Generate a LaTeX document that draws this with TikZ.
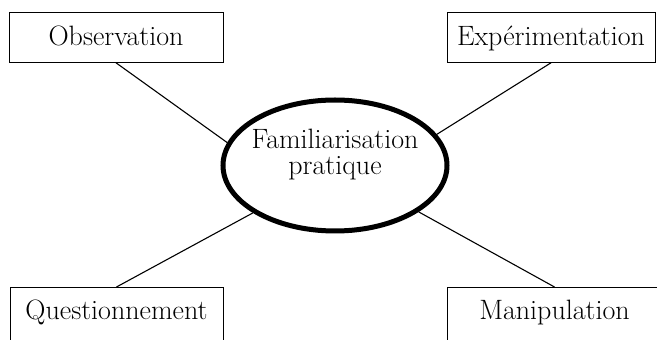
\documentclass[tikz,border=0pt]{standalone}
\usepackage{tikz}
\usetikzlibrary{positioning, shapes.geometric}

\begin{document}
\begin{tikzpicture}[x=1pt, y=1pt]
			\tikzset{
				label/.style = {font={\fontsize{28}{26}\selectfont}},
				link/.style={line width=1.1pt},
				boxstyle/.style={draw, line width=0.8pt, label, inner xsep=0pt, inner ysep=0pt, anchor=north, text height=33pt, text depth=17pt},
				lowbox/.style={boxstyle, text height=32pt, text depth=30pt},
				hub/.style={draw, ellipse, line width=5pt, minimum width=224pt, minimum height=131pt, inner sep=0pt},
			}

			\useasboundingbox (0,0) rectangle (657,340);

			\node[hub] (fam) at (335,174.5) {};
			\node[label, align=center] (famtxt) at ([yshift=10.5pt]fam.center) {Familiarisation\\pratique};

			\node[boxstyle, minimum width=214pt] (obs) at (116,328) {Observation};
			\node[boxstyle, minimum width=208pt] (exp) at (551,328) {Expérimentation};
			\node[lowbox, minimum width=213pt] (que) at (116.5,53) {Questionnement};
			\node[lowbox, minimum width=215pt] (man) at (554.5,53) {Manipulation};

			\foreach \from/\ang in {obs.south/168, exp.south/17, que.north/210, man.north/331}
				{
					\draw[link] (\from) -- (fam.\ang);
				}

		\end{tikzpicture}
\end{document}
